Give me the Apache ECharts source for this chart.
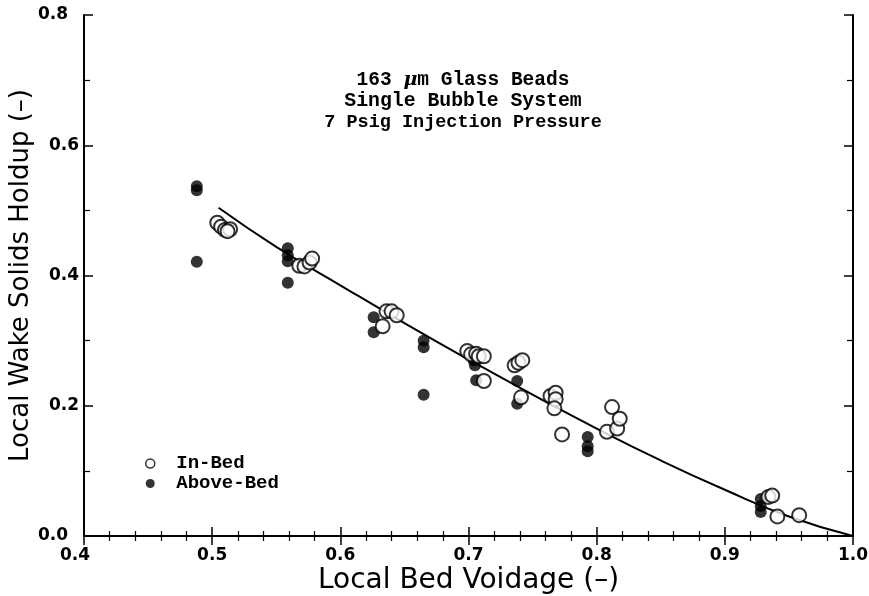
<!DOCTYPE html>
<html>
<head>
<meta charset="utf-8">
<script src="https://cdn.jsdelivr.net/npm/echarts@6/dist/echarts.min.js"></script>
<style>html,body{margin:0;padding:0;background:#fff}#c{width:869px;height:596px}</style>
</head>
<body>
<div id="c"></div>
<script>
// Data
const inBedX = [0.504,0.507,0.510,0.514,0.512, 0.568,0.572,0.576,0.578, 0.633,0.636,0.640,0.644, 0.699,0.702,0.706,0.708,0.712,0.712, 0.736,0.739,0.742,0.741, 0.764,0.768,0.768,0.767,0.773, 0.808,0.812,0.816,0.818, 0.934,0.937,0.941,0.958];
const inBedY = [0.481,0.475,0.470,0.471,0.468, 0.415,0.414,0.420,0.426, 0.322,0.345,0.345,0.339, 0.284,0.279,0.280,0.276,0.276,0.238, 0.262,0.266,0.270,0.213, 0.215,0.220,0.210,0.196,0.156, 0.160,0.198,0.165,0.180, 0.060,0.062,0.030,0.032];
const aboveBedX = [0.488,0.488,0.488, 0.559,0.559,0.559,0.559, 0.626,0.626, 0.665,0.665,0.665, 0.704,0.704,0.705,0.706, 0.738,0.738, 0.793,0.793,0.793, 0.928,0.928,0.928];
const aboveBedY = [0.537,0.531,0.421, 0.442,0.431,0.422,0.389, 0.336,0.313, 0.300,0.290,0.217, 0.280,0.270,0.262,0.239, 0.238,0.203, 0.152,0.138,0.130, 0.057,0.046,0.037];
const fitX = [0.505,0.55,0.60,0.65,0.70,0.75,0.80,0.85,0.90,0.95,1.00];
const fitY = [0.504,0.444,0.385,0.327,0.271,0.217,0.165,0.116,0.071,0.030,0.000];
const xTicks = [0.4,0.5,0.6,0.7,0.8,0.9,1.0];
const yTicks = [0.0,0.2,0.4,0.6,0.8];
const titleLines = ['{a|163 }{mu|μ}{a|m Glass Beads}','{b|Single Bubble System}','{c|7 Psig Injection Pressure}'];

const zip = (a,b) => a.map((v,i)=>[v,b[i]]);
const chart = echarts.init(document.getElementById('c'));
const sans = 'DejaVu Sans, Verdana, sans-serif';
const mono = 'Liberation Mono, Courier New, monospace';
const lbl = {fontFamily:sans, fontSize:17, fontWeight:'bold', color:'#000'};
const axLine = {show:true, lineStyle:{color:'#000', width:2}};
const isTick = (arr,v) => arr.some(t=>Math.abs(t-v)<1e-6);
function xAx(pos, show){
  return {type:'value', position:pos, min:0.4, max:1.0, interval:0.1,
    axisLine:axLine, axisTick:{show:true, inside:true, length:9, lineStyle:{color:'#000',width:1.5}},
    minorTick:{show:true, splitNumber:5, length:5, lineStyle:{color:'#000',width:1.2}},
    splitLine:{show:false}, minorSplitLine:{show:false},
    axisLabel:Object.assign({show:show, margin:11,
      formatter:v=>!isTick(xTicks,v)?'':(Math.abs(v-0.4)<1e-6?'{s|'+v.toFixed(1)+'}':v.toFixed(1)),
      rich:{s:Object.assign({padding:[0,18,0,0]}, lbl)}}, lbl),
    name: show?'Local Bed Voidage (–)':'', nameLocation:'middle', nameGap:31, nameMoveOverlap:false,
    nameTextStyle:{fontFamily:sans, fontSize:28, color:'#000'}};
}
function yAx(pos, show){
  return {type:'value', position:pos, min:0, max:0.8, interval:0.2,
    axisLine:axLine, axisTick:{show:true, inside:true, length:9, lineStyle:{color:'#000',width:1.5}},
    minorTick:{show:true, splitNumber:2, length:6, lineStyle:{color:'#000',width:1.2}},
    splitLine:{show:false}, minorSplitLine:{show:false},
    axisLabel:Object.assign({show:show, margin:5,
      formatter:v=>!isTick(yTicks,v)?'':((Math.abs(v)<1e-6||Math.abs(v-0.8)<1e-6)?'{s|'+v.toFixed(1)+'}':v.toFixed(1)),
      rich:{s:Object.assign({padding:[0,11,0,0]}, lbl)}}, lbl),
    name: show?'Local Wake Solids Holdup (–)':'', nameLocation:'middle', nameGap:50, nameMoveOverlap:false,
    nameTextStyle:{fontFamily:sans, fontSize:26, color:'#000'}};
}
const tBase = {fontFamily:mono, fontWeight:'bold', color:'#000', lineHeight:21.5};
chart.setOption({
  backgroundColor:'#fff',
  animation:false,
  grid:{left:84, right:16, top:15, bottom:60, outerBoundsMode:'none', containLabel:false},
  xAxis:[xAx('bottom',true), xAx('top',false)],
  yAxis:[yAx('left',true), yAx('right',false)],
  title:{text:titleLines.join('\n'), left:458, top:64, textAlign:'center',
    textStyle:Object.assign({fontSize:18.5, rich:{
      a:Object.assign({fontSize:19.5}, tBase),
      b:Object.assign({fontSize:19.8}, tBase),
      c:Object.assign({fontSize:18.5}, tBase),
      mu:{fontFamily:'DejaVu Serif, serif', fontStyle:'italic', fontSize:19, fontWeight:'bold', color:'#000', lineHeight:21.5}}}, tBase)},
  legend:{orient:'vertical', left:140, top:449, itemGap:1, itemWidth:42, itemHeight:9,
    textStyle:{fontFamily:mono, fontSize:19, fontWeight:'bold', color:'#000'},
    data:[{name:'In-Bed', icon:'circle', itemStyle:{borderWidth:1.5}},{name:'Above-Bed', icon:'circle'}]},
  series:[
    {name:'fit', type:'line', data:zip(fitX,fitY), smooth:true, symbol:'none',
     lineStyle:{color:'#000', width:2}, z:1},
    {name:'In-Bed', type:'scatter', data:zip(inBedX,inBedY), symbol:'circle', symbolSize:14,
     itemStyle:{color:'#fff', borderColor:'#000', borderWidth:2}, z:3},
    {name:'Above-Bed', type:'scatter', data:zip(aboveBedX,aboveBedY), symbol:'circle', symbolSize:12,
     itemStyle:{color:'#000', borderColor:'#000', borderWidth:0}, z:2}
  ]
});
</script>
</body>
</html>
